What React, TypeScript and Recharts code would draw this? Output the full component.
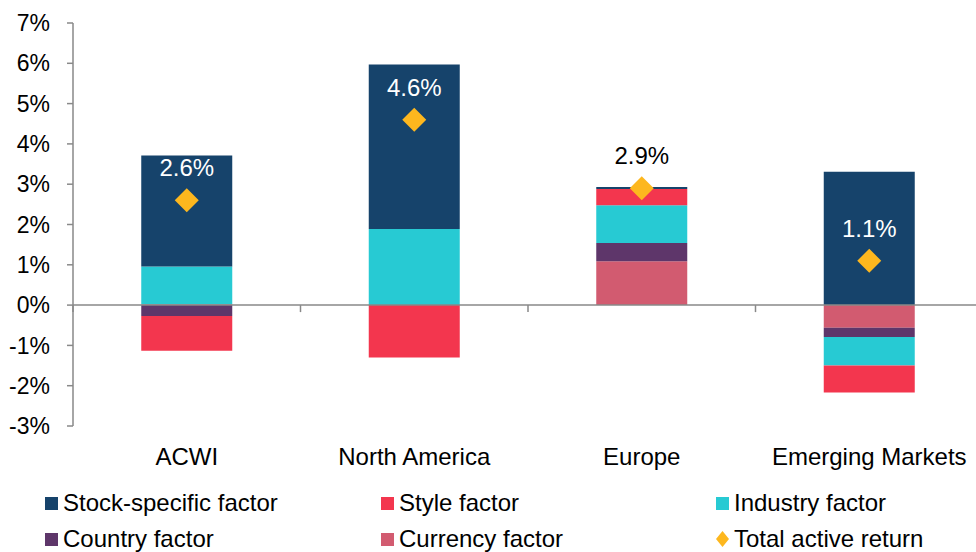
import { ComposedChart, Bar, Line, XAxis, YAxis, ReferenceLine, Legend, LabelList } from "recharts"

const regions = ["ACWI", "North America", "Europe", "Emerging Markets"]
const stockSpecific = [2.75, 4.08, 0.05, 3.31]
const styleFactor = [-0.86, -1.3, 0.4, -0.67]
const industry = [0.94, 1.89, 0.94, -0.71]
const country = [-0.27, 0, 0.45, -0.23]
const currency = [0.02, 0, 1.09, -0.56]
const totalActive = [2.6, 4.6, 2.9, 1.1]
const yTicks = [-3, -2, -1, 0, 1, 2, 3, 4, 5, 6, 7]

const COLORS = {
  stock: "#16436B",
  styleF: "#F3364E",
  industry: "#27CAD3",
  country: "#5E366A",
  currency: "#D25B70",
  total: "#FDB71E",
  axis: "#898989",
}

// label text colour per region (Europe sits above its bar, so it is black)
const labelColors = ["#ffffff", "#ffffff", "#000000", "#ffffff"]

// note: "style" can't be a data key, recharts spreads the row onto the bar rect
const data = regions.map((name, i) => ({
  name,
  stock: stockSpecific[i],
  styleF: styleFactor[i],
  industry: industry[i],
  country: country[i],
  currency: currency[i],
  total: totalActive[i],
}))

const legendItems = [
  { label: "Stock-specific factor", color: COLORS.stock, diamond: false },
  { label: "Style factor", color: COLORS.styleF, diamond: false },
  { label: "Industry factor", color: COLORS.industry, diamond: false },
  { label: "Country factor", color: COLORS.country, diamond: false },
  { label: "Currency factor", color: COLORS.currency, diamond: false },
  { label: "Total active return", color: COLORS.total, diamond: true },
]

const FONT = '"Liberation Sans", Arial, sans-serif'

function ZeroAxis(props: any) {
  const { x1, x2, y1 } = props
  const step = (x2 - x1) / regions.length
  return (
    <g>
      <line x1={x1} x2={x2} y1={y1} y2={y1} stroke={COLORS.axis} strokeWidth={1.5} />
      {regions.map((_, i) => (
        <line key={i} x1={x1 + step * i} x2={x1 + step * i} y1={y1} y2={y1 + 7} stroke={COLORS.axis} strokeWidth={1.5} />
      ))}
    </g>
  )
}

function Diamond(props: any) {
  const { cx, cy, index } = props
  if (cx == null || cy == null) return <g key={index} />
  const r = 12
  return (
    <polygon
      key={index}
      points={`${cx},${cy - r} ${cx + r},${cy} ${cx},${cy + r} ${cx - r},${cy}`}
      fill={COLORS.total}
    />
  )
}

function TotalLabel(props: any) {
  const { x, y, value, index } = props
  return (
    <text x={x} y={y - 24} textAnchor="middle" fontSize={24} fontFamily={FONT} fill={labelColors[index] ?? "#000"}>
      {`${Number(value).toFixed(1)}%`}
    </text>
  )
}

function LegendBox() {
  return (
    <div
      style={{
        height: 80,
        boxSizing: "border-box",
        paddingTop: 13,
        paddingLeft: 45,
        display: "grid",
        gridTemplateColumns: "336px 335px 260px",
        gridAutoRows: "36px",
        fontFamily: FONT,
        fontSize: 24,
        color: "#000",
      }}
    >
      {legendItems.map((item) => (
        <div key={item.label} style={{ display: "flex", alignItems: "center", whiteSpace: "nowrap" }}>
          {item.diamond ? (
            <svg width={13} height={16} style={{ marginRight: 5 }}>
              <polygon points="6.5,0 13,8 6.5,16 0,8" fill={item.color} />
            </svg>
          ) : (
            <span style={{ width: 13, height: 13, background: item.color, marginRight: 5, display: "inline-block" }} />
          )}
          <span>{item.label}</span>
        </div>
      ))}
    </div>
  )
}

export default function App() {
  return (
    <div
      style={{
        position: "absolute",
        top: 0,
        left: 0,
        width: 976,
        height: 552,
        overflow: "hidden",
        background: "#fff",
        fontFamily: FONT,
      }}
    >
      <ComposedChart
        width={984}
        height={552}
        data={data}
        stackOffset="sign"
        barCategoryGap="30%"
        margin={{ top: 23, right: 1, left: 0, bottom: 0 }}
      >
        <XAxis
          dataKey="name"
          axisLine={false}
          tickLine={false}
          height={46}
          tickMargin={16}
          interval={0}
          tick={{ fontSize: 24, fill: "#000", fontFamily: FONT }}
        />
        <YAxis
          domain={[-3, 7]}
          ticks={yTicks}
          width={73}
          tickMargin={17}
          tickFormatter={(v: number) => `${v}%`}
          axisLine={{ stroke: COLORS.axis, strokeWidth: 1.5 }}
          tickLine={{ stroke: COLORS.axis, strokeWidth: 1.5 }}
          tick={{ fontSize: 23, fill: "#000", fontFamily: FONT }}
        />
        <Legend verticalAlign="bottom" content={() => <LegendBox />} wrapperStyle={{ left: 0, width: 976 }} />
        <Bar dataKey="currency" name="Currency factor" stackId="a" fill={COLORS.currency} isAnimationActive={false} />
        <Bar dataKey="country" name="Country factor" stackId="a" fill={COLORS.country} isAnimationActive={false} />
        <Bar dataKey="industry" name="Industry factor" stackId="a" fill={COLORS.industry} isAnimationActive={false} />
        <Bar dataKey="styleF" name="Style factor" stackId="a" fill={COLORS.styleF} isAnimationActive={false} />
        <Bar dataKey="stock" name="Stock-specific factor" stackId="a" fill={COLORS.stock} isAnimationActive={false} />
        <ReferenceLine y={0} shape={ZeroAxis} />
        <Line
          dataKey="total"
          name="Total active return"
          stroke="none"
          dot={Diamond}
          activeDot={false}
          isAnimationActive={false}
        >
          <LabelList dataKey="total" content={TotalLabel} />
        </Line>
      </ComposedChart>
    </div>
  )
}
